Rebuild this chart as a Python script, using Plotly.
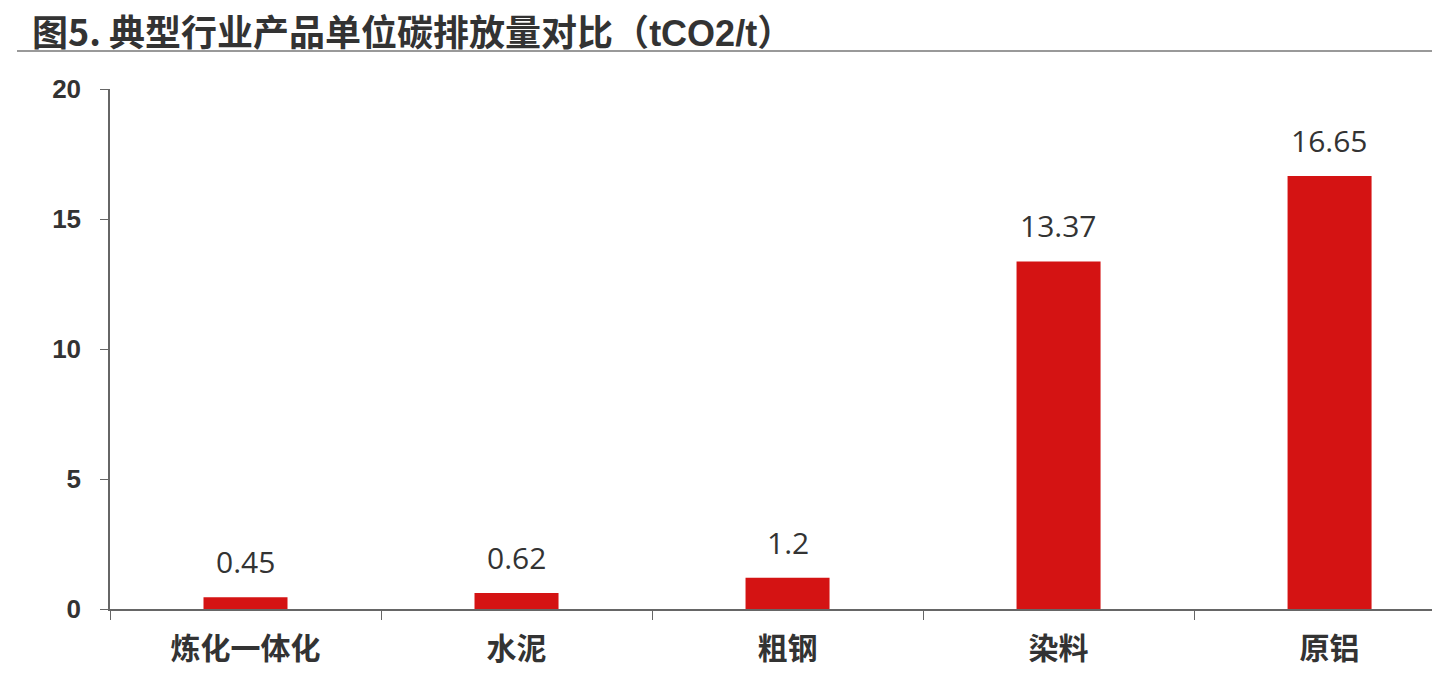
import plotly.graph_objects as go

categories = ["炼化一体化", "水泥", "粗钢", "染料", "原铝"]
values = [0.45, 0.62, 1.2, 13.37, 16.65]
value_labels = ["0.45", "0.62", "1.2", "13.37", "16.65"]
y_ticks = [0, 5, 10, 15, 20]

title_main = "图5. 典型行业产品单位碳排放量对比（"
title_unit = "tCO2/t"
title_end = "）"

fig = go.Figure()
fig.add_trace(go.Bar(
    x=categories, y=values,
    marker=dict(color="#D41313", line=dict(width=0)),
    width=0.31,
))

for c, v, t in zip(categories, values, value_labels):
    fig.add_annotation(x=c, y=v, text=t, showarrow=False, yanchor="bottom",
                       yshift=13, font=dict(family="Open Sans", size=30, color="#333333"))

title_html = ("<b>" + title_main
              + "<span style='font-family:Liberation Sans'>" + title_unit + "</span>"
              + title_end + "</b>")
fig.add_annotation(xref="paper", yref="paper", x=-0.0598, y=1.1558,
                   xanchor="left", yanchor="top", height=40, valign="middle",
                   text=title_html, showarrow=False,
                   font=dict(family="Noto Sans CJK SC", size=36, color="#333333"))

fig.add_shape(type="line", xref="paper", yref="paper", x0=-0.0695, x1=1.0,
              y0=1.073, y1=1.073, line=dict(color="#999999", width=2))

fig.update_layout(
    width=1440, height=673,
    margin=dict(l=102, r=0, t=81, b=72),
    plot_bgcolor="white", paper_bgcolor="white",
    showlegend=False,
    xaxis=dict(
        range=[-0.5, 4.437],
        showline=True, linecolor="#666666", linewidth=1.5,
        ticks="outside", tickson="boundaries", ticklen=9, tickcolor="#666666",
        tickfont=dict(family="Noto Sans CJK SC", size=30, color="#333333", weight="bold"),
        ticklabelstandoff=12,
        showgrid=False,
    ),
    yaxis=dict(
        range=[0, 20], tickvals=y_ticks,
        showline=True, linecolor="#666666", linewidth=1.5,
        ticks="outside", ticklen=8, tickcolor="#666666",
        tickfont=dict(family="Liberation Sans", size=26, color="#333333", weight="bold"),
        ticklabelstandoff=14,
        showgrid=False, zeroline=False,
    ),
)

fig.write_html("out.html")
